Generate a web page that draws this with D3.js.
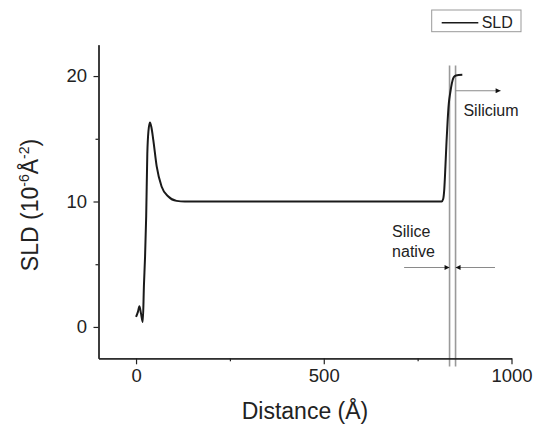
<!DOCTYPE html>
<html>
<head>
<meta charset="utf-8">
<script src="https://cdn.jsdelivr.net/npm/d3@7"></script>
<style>
  html, body { margin: 0; padding: 0; background: #fff; }
  svg { display: block; font-family: "Liberation Sans", Arial, sans-serif; }
</style>
</head>
<body>
<svg id="chart" width="538" height="428"></svg>
<script>
// ---- data ----
const distance = [0, 5, 9, 13, 18, 21, 24, 27, 30, 33, 37, 41, 46, 55, 68, 86, 108, 130, 400,
                  814, 818, 821, 824, 827, 830, 833, 837, 841, 846, 852, 869];
const sld      = [0.8, 1.2, 1.65, 1.1, 0.4, 3.3, 5.6, 8.8, 13.8, 15.6, 16.3, 15.9, 14.9, 12.8, 11.2, 10.4, 10.05, 10.0, 10.0,
                  10.0, 10.2, 11.0, 12.8, 14.8, 16.5, 17.8, 18.7, 19.4, 19.9, 20.05, 20.1];
const xMajorTicks = [0, 500, 1000];
const xMinorTicks = [250, 750];
const yMajorTicks = [0, 10, 20];
const yMinorTicks = [5, 15];
const interfaceLines = [835, 851];          // native silica layer boundaries
const seriesName = "SLD";
const xTitle = "Distance (Å)";

// ---- layout ----
const svg = d3.select("#chart");
const x = d3.scaleLinear().domain([-100, 1000]).range([98.5, 511.5]);
const y = d3.scaleLinear().domain([-2.5, 22.5]).range([358.3, 44.7]);
const font = "Liberation Sans, Arial, sans-serif";

// arrow marker
svg.append("defs").append("marker")
  .attr("id", "arr").attr("viewBox", "0 0 10 10")
  .attr("refX", 10).attr("refY", 5)
  .attr("markerWidth", 7).attr("markerHeight", 5)
  .attr("markerUnits", "userSpaceOnUse")
  .attr("orient", "auto")
  .append("path").attr("d", "M0,0 L10,5 L0,10 Z").attr("fill", "#111");

// vertical interface lines
svg.append("g").selectAll("line").data(interfaceLines).join("line")
  .attr("x1", d => x(d)).attr("x2", d => x(d))
  .attr("y1", y(20.85)).attr("y2", y(-3.15))
  .attr("stroke", "#9a9a9a").attr("stroke-width", 1.6);

// axes
function styleAxis(g) {
  g.selectAll("path.domain").attr("stroke", "#222").attr("stroke-width", 1.3);
  g.selectAll(".tick line").attr("stroke", "#222").attr("stroke-width", 1.2);
  g.selectAll(".tick text").attr("fill", "#222").attr("font-family", font).attr("font-size", 18.5);
}
const xAxisG = svg.append("g").attr("transform", `translate(0,${y.range()[0]})`)
  .call(d3.axisBottom(x).tickValues(xMajorTicks).tickSize(6).tickSizeOuter(0).tickPadding(5).tickFormat(d3.format("d")));
styleAxis(xAxisG);
const xMinorG = svg.append("g").attr("transform", `translate(0,${y.range()[0]})`)
  .call(d3.axisBottom(x).tickValues(xMinorTicks).tickSize(3).tickSizeOuter(0).tickFormat(""));
styleAxis(xMinorG);
// right end tick at 1000 goes upward? (reference shows axis end tick down) - handled by major tick

const yAxisG = svg.append("g").attr("transform", `translate(${x.range()[0]},0)`)
  .call(d3.axisLeft(y).tickValues(yMajorTicks).tickSize(5).tickSizeOuter(0).tickPadding(6.5).tickFormat(d3.format("d")));
styleAxis(yAxisG);
const yMinorG = svg.append("g").attr("transform", `translate(${x.range()[0]},0)`)
  .call(d3.axisLeft(y).tickValues(yMinorTicks).tickSize(3).tickSizeOuter(0).tickFormat(""));
styleAxis(yMinorG);

// curve
const pts = distance.map((d, i) => [d, sld[i]]);
svg.append("path").datum(pts)
  .attr("fill", "none").attr("stroke", "#1a1a1a").attr("stroke-width", 2)
  .attr("stroke-linejoin", "round")
  .attr("d", d3.line().x(d => x(d[0])).y(d => y(d[1])).curve(d3.curveMonotoneX));

// annotation arrows
const arrows = [
  {x1: 851, x2: 971, y: 18.83},
  {x1: 714, x2: 835, y: 4.74},
  {x1: 956, x2: 851, y: 4.74}
];
svg.append("g").selectAll("line").data(arrows).join("line")
  .attr("x1", d => x(d.x1)).attr("x2", d => x(d.x2))
  .attr("y1", d => y(d.y)).attr("y2", d => y(d.y))
  .attr("stroke", "#8a8a8a").attr("stroke-width", 1.2)
  .attr("marker-end", "url(#arr)");

// annotation texts
const notes = [
  {t: "Silicium", x: 872, y: 16.8},
  {t: "Silice", x: 682, y: 7.16},
  {t: "native", x: 682, y: 5.56}
];
svg.append("g").selectAll("text").data(notes).join("text")
  .attr("x", d => x(d.x)).attr("y", d => y(d.y))
  .attr("font-family", font).attr("font-size", 16).attr("fill", "#222")
  .text(d => d.t);

// axis titles
svg.append("text")
  .attr("x", (x.range()[0] + x.range()[1]) / 2).attr("y", 419)
  .attr("text-anchor", "middle").attr("font-family", font).attr("font-size", 23).attr("fill", "#222")
  .text(xTitle);

const yt = svg.append("text")
  .attr("transform", "translate(38,205) rotate(-90)")
  .attr("text-anchor", "middle").attr("font-family", font).attr("font-size", 23).attr("fill", "#222");
yt.append("tspan").text("SLD (10");
yt.append("tspan").attr("font-size", 14).attr("dy", -9).text("-6");
yt.append("tspan").attr("dy", 9).text("Å");
yt.append("tspan").attr("font-size", 14).attr("dy", -9).text("-2");
yt.append("tspan").attr("dy", 9).text(")");

// legend
const lg = svg.append("g");
lg.append("rect").attr("x", 431.7).attr("y", 10).attr("width", 89.3).attr("height", 21.7)
  .attr("fill", "#fff").attr("stroke", "#999").attr("stroke-width", 1);
lg.append("line").attr("x1", 441.7).attr("x2", 478.3).attr("y1", 22.7).attr("y2", 22.7)
  .attr("stroke", "#1a1a1a").attr("stroke-width", 1.6);
lg.append("text").attr("x", 481.7).attr("y", 28.3)
  .attr("font-family", font).attr("font-size", 16).attr("fill", "#222").text(seriesName);
</script>
</body>
</html>
